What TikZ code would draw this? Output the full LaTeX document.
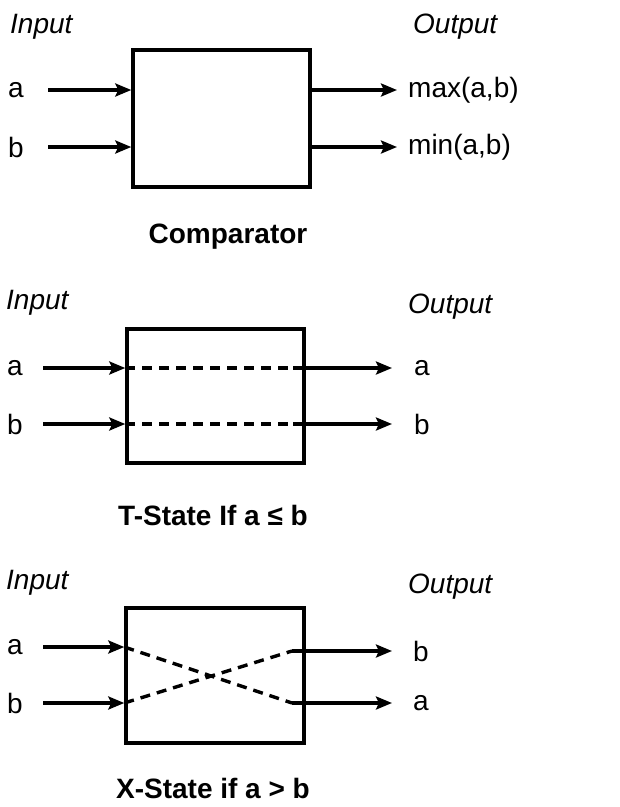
\documentclass[tikz,border=0pt]{standalone}
\usepackage{fontspec}
\setmainfont{Liberation Sans}
\usetikzlibrary{arrows.meta,positioning}

\tikzset{
  sig/.style={-{Stealth[length=16pt,width=13pt,inset=3pt]}, line width=3.4pt},
  wire/.style={line width=3.4pt, dash pattern=on 10pt off 7pt},
  blk/.style={draw, line width=3.4pt, minimum width=177pt, minimum height=135pt, inner sep=0pt},
  lbl/.style={font=\fontsize{28}{32}\selectfont, inner sep=0pt},
  hdr/.style={font=\fontsize{28}{32}\selectfont\itshape, inner sep=0pt, anchor=west},
  captxt/.style={font=\fontsize{28}{32}\selectfont\bfseries, inner sep=0pt}
}

\begin{document}
\begin{tikzpicture}[x=1pt, y=-1pt]
    \useasboundingbox (0,0) rectangle (620,807);

    % --- Comparator ---
    \node[hdr] (in1) at (10,27) {Input};
    \node[hdr] (out1) at (413,27) {Output};
    \node[blk, minimum height=137pt] (cmp) at (221.5,118.5) {};
    \node[lbl] (a1) at (16,90) {a};
    \node[lbl] (b1) at (16,147) {b};
    \node[lbl, anchor=west] (mx) at (408,90) {max(a,b)};
    \node[lbl, anchor=west] (mn) at (408,147) {min(a,b)};
    \coordinate (ia1) at (48,90);
    \coordinate (ib1) at (48,147);
    \coordinate (oa1) at (397,90);
    \coordinate (ob1) at (397,147);
    \draw[sig] (ia1) -- (ia1 -| cmp.west);
    \draw[sig] (ib1) -- (ib1 -| cmp.west);
    \draw[sig] (oa1 -| cmp.east) -- (oa1);
    \draw[sig] (ob1 -| cmp.east) -- (ob1);
    \node[captxt] (c1) at (228,237) {Comparator};

    % --- T-State ---
    \node[hdr] (in2) at (6,303) {Input};
    \node[hdr] (out2) at (408,307) {Output};
    \node[blk, minimum height=134pt] (tst) at (215.5,396) {};
    \node[lbl] (a2) at (15,368) {a};
    \node[lbl] (b2) at (15,424) {b};
    \node[lbl] (oa2l) at (422,368) {a};
    \node[lbl] (ob2l) at (422,424) {b};
    \coordinate (ia2) at (43,368);
    \coordinate (ib2) at (43,424);
    \coordinate (ja2) at (293,368);
    \coordinate (jb2) at (293,424);
    \coordinate (oa2) at (392,368);
    \coordinate (ob2) at (392,424);
    \draw[sig] (ia2) -- (ia2 -| tst.west);
    \draw[sig] (ib2) -- (ib2 -| tst.west);
    \draw[wire] (ia2 -| tst.west) -- (ja2);
    \draw[wire] (ib2 -| tst.west) -- (jb2);
    \draw[sig] (ja2) -- (oa2);
    \draw[sig] (jb2) -- (ob2);
    \node[captxt] (c2) at (213,515) {T-State If a ≤ b};

    % --- X-State ---
    \node[hdr] (in3) at (6,583) {Input};
    \node[hdr] (out3) at (408,587) {Output};
    \node[blk, minimum width=178pt] (xst) at (215,675.5) {};
    \node[lbl] (a3) at (15,647) {a};
    \node[lbl] (b3) at (15,703) {b};
    \node[lbl] (ob3l) at (421,651) {b};
    \node[lbl] (oa3l) at (421,703) {a};
    \coordinate (ia3) at (43,647);
    \coordinate (ib3) at (43,703);
    \coordinate (jb3) at (292,651);
    \coordinate (ja3) at (292,703);
    \coordinate (ob3) at (392,651);
    \coordinate (oa3) at (392,703);
    \draw[sig] (ia3) -- (ia3 -| xst.west);
    \draw[sig] (ib3) -- (ib3 -| xst.west);
    % crossing paths inside the box
    \draw[wire] (ia3 -| xst.west) -- (ja3);
    \draw[wire] (ib3 -| xst.west) -- (jb3);
    \draw[sig] (jb3) -- (ob3);
    \draw[sig] (ja3) -- (oa3);
    \node[captxt] (c3) at (213,788) {X-State if a > b};

\end{tikzpicture}
\end{document}
